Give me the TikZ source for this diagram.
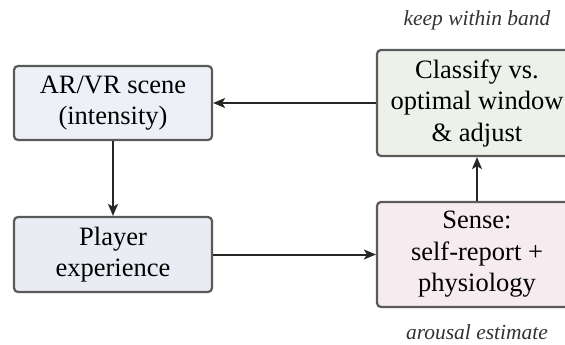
\documentclass[tikz,border=0pt]{standalone}
\usepackage{fontspec}
\setmainfont{Liberation Serif}
\usetikzlibrary{arrows.meta}
\definecolor{scenefill}{HTML}{EDF1F7}
\definecolor{playerfill}{HTML}{E9EDF3}
\definecolor{classfill}{HTML}{ECF1EA}
\definecolor{sensefill}{HTML}{F6ECEF}
\definecolor{edgegray}{HTML}{5A5A5A}
\definecolor{notegray}{HTML}{333333}
\tikzset{
  x=1pt, y=-1pt,
  stagebox/.style={draw=edgegray, line width=2.2pt, rounded corners=4pt,
    align=center, inner sep=0pt, text=black,
    font=\fontsize{26.5}{31.5}\selectfont},
  flow/.style={draw=black!85, line width=2pt,
    -{Stealth[length=12pt,width=10pt,inset=3pt]}},
  note/.style={font=\fontsize{21.5}{24}\selectfont\itshape, text=notegray}
}
\begin{document}
\begin{tikzpicture}
  \useasboundingbox (0,0) rectangle (565,345);
  \clip (0,0) rectangle (565,345);
  % loop stages
  \node[stagebox, fill=scenefill, minimum width=198pt, minimum height=74pt]
    (scene) at (113,103) {AR/VR scene\\(intensity)};
  \node[stagebox, fill=playerfill, minimum width=198pt, minimum height=75pt]
    (player) at (113,254.5) {Player\\experience};
  \node[stagebox, fill=sensefill, minimum width=200pt, minimum height=105pt]
    (sense) at (477,254.5) {Sense:\\self-report +\\physiology};
  \node[stagebox, fill=classfill, minimum width=200pt, minimum height=106pt]
    (classify) at (477,103) {Classify vs.\\optimal window\\\& adjust};
  % annotations
  \node[note] (band) at (477,20) {keep within band};
  \node[note] (estimate) at (477,332) {arousal estimate};
  % connectors
  \draw[flow] (scene) -- (player);
  \draw[flow] (player) -- (sense);
  \draw[flow] (sense) -- (classify);
  \draw[flow] (classify) -- (scene);
\end{tikzpicture}
\end{document}
